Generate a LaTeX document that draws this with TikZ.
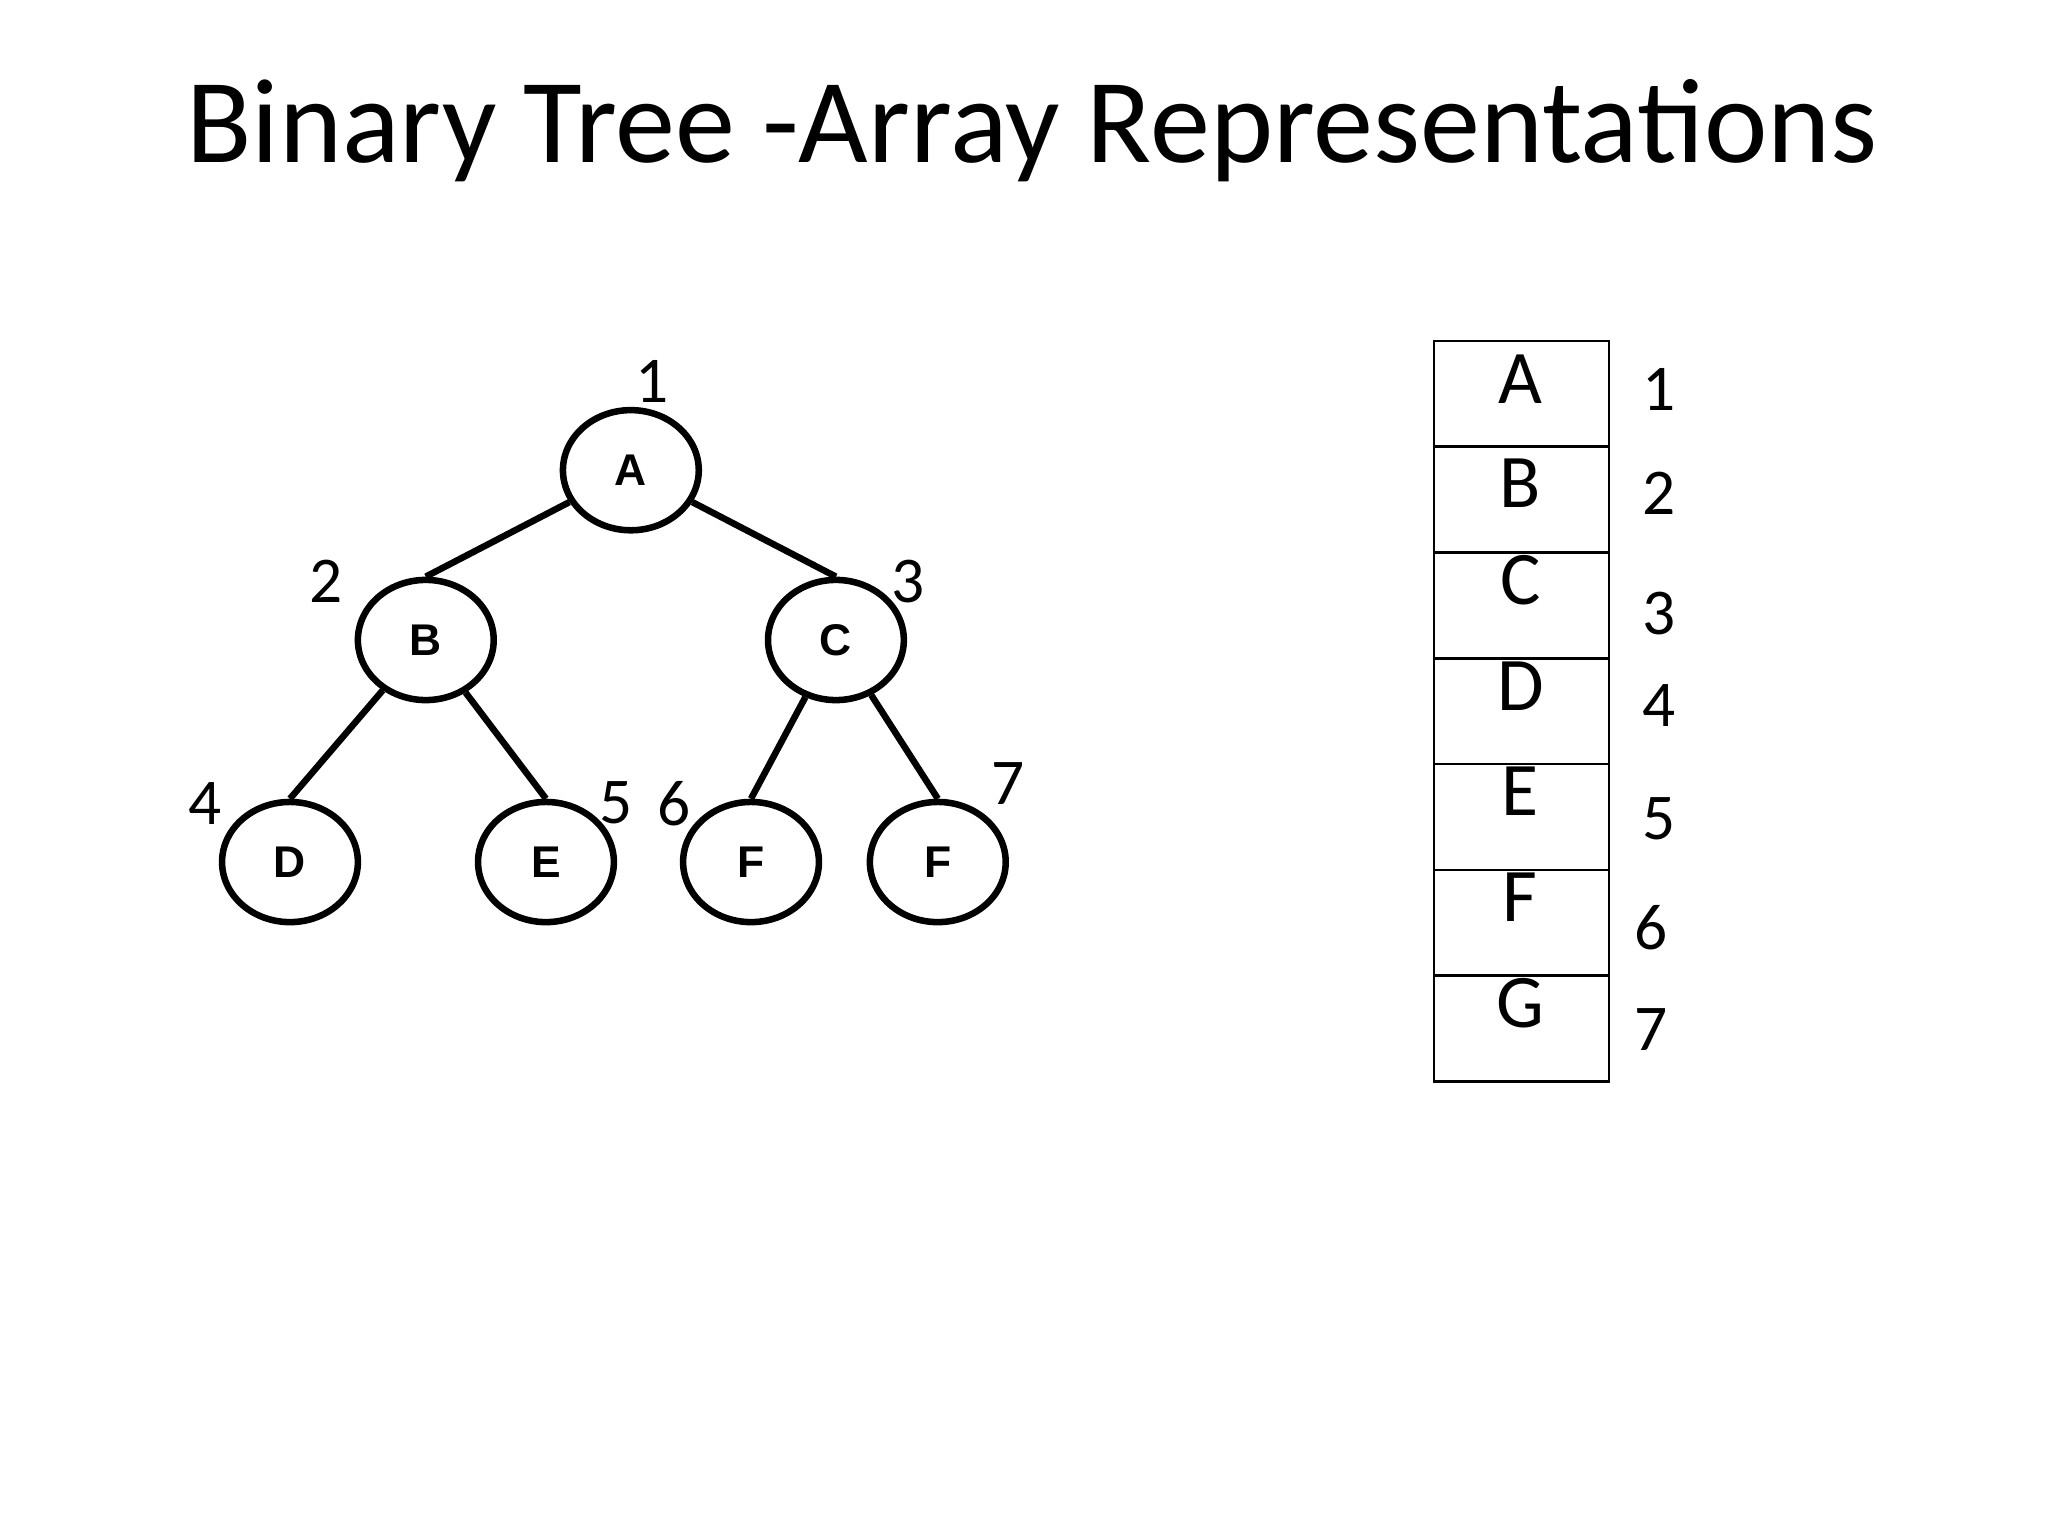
\documentclass[tikz,border=0pt]{standalone}
\usepackage{fontspec}
\setmainfont{Carlito}
\newfontfamily\arialb{Liberation Sans}
\usetikzlibrary{shapes.geometric}
\begin{document}
\begin{tikzpicture}[x=0.5pt,y=-0.5pt,
  tn/.style={ellipse,draw,line width=2.5pt,minimum width=104\pgflinewidth,inner sep=0pt,minimum width=52pt,minimum height=46pt,font=\arialb\bfseries\fontsize{17}{17}\selectfont},
  edge/.style={line width=2.5pt},
  num/.style={font=\fontsize{25}{25}\selectfont,inner sep=0pt},
  cell/.style={draw,line width=1pt,minimum width=67pt,minimum height=40.5pt,inner sep=0pt,anchor=north west},
  celltxt/.style={font=\fontsize{29}{29}\selectfont,inner sep=0pt}]
\useasboundingbox (0,0) rectangle (1568,1176);
\node[font=\fontsize{46}{46}\selectfont] (title) at (790,100) {Binary Tree -Array Representations};
\node[tn] (A) at (483,360) {A};
\node[tn] (B) at (326,490) {B};
\node[tn] (C) at (640,490) {C};
\node[tn] (D) at (222,660) {D};
\node[tn] (E) at (418,660) {E};
\node[tn] (F1) at (575,660) {F};
\node[tn] (F2) at (718,660) {F};
\draw[edge] (A) -- (B.north);
\draw[edge] (A) -- (C.north);
\draw[edge] (B) -- (D.north);
\draw[edge] (B) -- (E.north);
\draw[edge] (C) -- (F1.north);
\draw[edge] (C) -- (F2.north);
\node[num] (n1) at (499,292) {1};
\node[num] (n2) at (250,445) {2};
\node[num] (n3) at (695,445) {3};
\node[num] (n4) at (157,615) {4};
\node[num] (n5) at (472,615) {5};
\node[num] (n6) at (516,615) {6};
\node[num] (n7) at (772,600) {7};
\foreach \l/\y/\ny [count=\i] in {A/298/298,B/378/378,C/452/470,D/533/540,E/614/627,F/695/710,G/776/788}{
  \node[cell] (c\i) at (1097,{260+81*(\i-1)}) {};
  \node[celltxt] (t\i) at (1164,{\y-8}) {\l};
}
\node[num] (a1) at (1270,298) {1};
\node[num] (a2) at (1270,378) {2};
\node[num] (a3) at (1270,470) {3};
\node[num] (a4) at (1270,540) {4};
\node[num] (a5) at (1270,627) {5};
\node[num] (a6) at (1264,710) {6};
\node[num] (a7) at (1264,788) {7};
\end{tikzpicture}
\end{document}
